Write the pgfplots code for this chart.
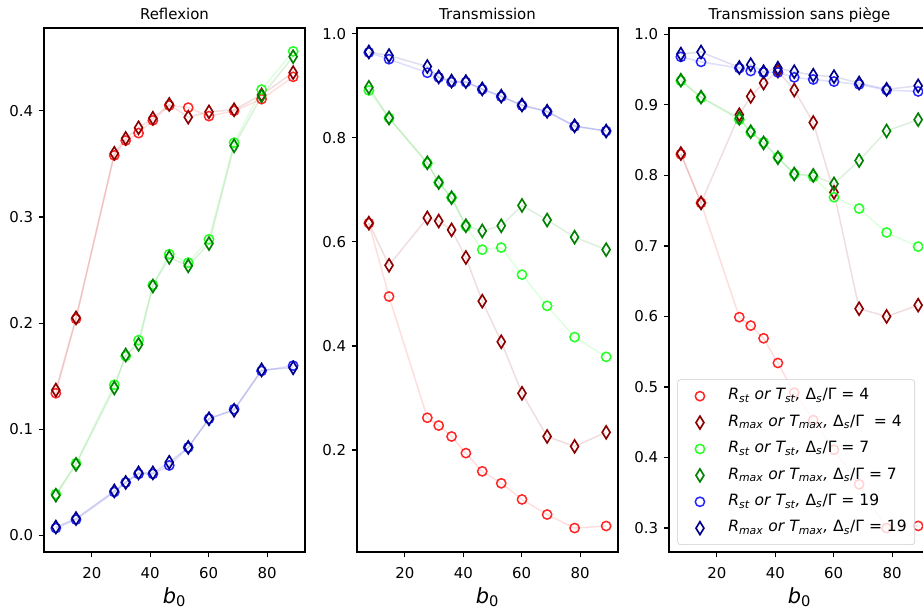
\documentclass[border=0pt]{standalone}
\usepackage{pgfplots}
\pgfplotsset{compat=1.18}
\usepackage{pgfplotstable}
\usepackage{fontspec}
\setmainfont{DejaVu Sans}
\definecolor{cR}{HTML}{FF0000}
\definecolor{cDR}{HTML}{8B0000}
\definecolor{cG}{HTML}{00FF00}
\definecolor{cDG}{HTML}{008000}
\definecolor{cB}{HTML}{0000FF}
\definecolor{cDB}{HTML}{00008B}

\pgfplotstableread{
x     rc    rd    gc    gd    bc    bd
7.7   0.134 0.137 0.039 0.038 0.007 0.008
14.6  0.204 0.205 0.068 0.067 0.015 0.016
27.7  0.358 0.360 0.142 0.139 0.041 0.042
31.6  0.372 0.374 0.169 0.170 0.050 0.050
36.0  0.379 0.384 0.184 0.180 0.058 0.059
40.9  0.391 0.393 0.236 0.235 0.058 0.059
46.5  0.405 0.406 0.265 0.262 0.066 0.069
53.0  0.403 0.394 0.257 0.254 0.083 0.083
60.1  0.395 0.399 0.279 0.275 0.110 0.110
68.7  0.400 0.401 0.370 0.367 0.119 0.118
78.1  0.411 0.415 0.420 0.414 0.155 0.156
88.9  0.432 0.436 0.456 0.451 0.160 0.158
}\tabR

\pgfplotstableread{
x     rc    rd    gc    gd    bc    bd
7.7   0.636 0.636 0.891 0.897 0.964 0.965
14.6  0.495 0.555 0.838 0.838 0.951 0.958
27.7  0.262 0.646 0.751 0.752 0.925 0.937
31.6  0.247 0.640 0.714 0.714 0.916 0.917
36.0  0.226 0.623 0.685 0.685 0.907 0.909
40.9  0.194 0.570 0.630 0.631 0.907 0.908
46.5  0.159 0.486 0.585 0.621 0.893 0.894
53.0  0.136 0.408 0.589 0.631 0.879 0.880
60.1  0.105 0.309 0.537 0.670 0.862 0.863
68.7  0.076 0.226 0.477 0.642 0.850 0.851
78.1  0.050 0.207 0.417 0.609 0.822 0.823
88.9  0.054 0.234 0.379 0.585 0.813 0.813
}\tabT

\pgfplotstableread{
x     rc    rd    gc    gd    bc    bd
7.7   0.830 0.831 0.934 0.935 0.968 0.972
14.6  0.761 0.761 0.910 0.911 0.961 0.975
27.7  0.599 0.886 0.879 0.881 0.952 0.953
31.6  0.587 0.912 0.861 0.862 0.948 0.957
36.0  0.569 0.931 0.847 0.846 0.946 0.947
40.9  0.534 0.948 0.826 0.825 0.946 0.952
46.5  0.492 0.921 0.802 0.802 0.939 0.947
53.0  0.453 0.875 0.798 0.800 0.936 0.942
60.1  0.411 0.776 0.769 0.788 0.933 0.940
68.7  0.362 0.611 0.753 0.821 0.929 0.931
78.1  0.300 0.600 0.719 0.863 0.921 0.922
88.9  0.303 0.616 0.699 0.879 0.919 0.927
}\tabS

\newcommand{\fsz}{\fontsize{10}{12}\selectfont}
\newcommand{\lgst}[2]{\textit{R\textsubscript{#1} or T\textsubscript{#1}, }Δ\textit{\textsubscript{s}}/Γ#2}

\pgfplotsset{
  myax/.style={
    scale only axis, width=174bp, height=349.33bp,
    xmin=3.64, xmax=92.96,
    xtick={20,40,60,80},
    xtick pos=left, ytick pos=left,
    tick align=outside, major tick length=3.5bp,
    every tick/.style={black, line width=0.8bp},
    axis line style={line width=0.8bp},
    /pgf/number format/assume math mode=true,
    xticklabel style={font=\fsz, inner sep=0pt, anchor=north, yshift=-6.3bp},
    yticklabel style={font=\fsz, inner sep=0pt, anchor=east, xshift=-3.6bp,
      /pgf/number format/fixed, /pgf/number format/precision=1, /pgf/number format/fixed zerofill},
    title style={font=\fsz, at={(0.5,1)}, anchor=base, inner sep=0pt, yshift=-0.4bp},
    xlabel={\textit{b}\textsubscript{0}},
    xlabel style={font=\fontsize{14}{16}\selectfont, at={(0.5,0)}, anchor=base, inner sep=0pt, yshift=-34bp},
    legend image code/.code={\path (-9.4bp,0bp) (3bp,0bp); \draw[##1] plot coordinates {(0bp,0bp)};},
  },
  lin/.style={color=#1, line width=1bp, opacity=0.13, no marks, forget plot},
  circ/.style={only marks, mark=o, mark size=3.1bp, color=#1, mark options={line width=1bp, draw opacity=0.85}},
  diam/.style={only marks, mark=diamond, mark size=4.3bp, color=#1, mark options={line width=1.1bp, xscale=0.82}},
}

\newcommand{\allplots}[1]{%
  \addplot[lin=cR] table[x=x,y=rc]{#1};
  \addplot[lin=cDR] table[x=x,y=rd]{#1};
  \addplot[lin=cG] table[x=x,y=gc]{#1};
  \addplot[lin=cDG] table[x=x,y=gd]{#1};
  \addplot[lin=cB] table[x=x,y=bc]{#1};
  \addplot[lin=cDB] table[x=x,y=bd]{#1};
  \addplot[circ=cR] table[x=x,y=rc]{#1};
  \addplot[diam=cDR] table[x=x,y=rd]{#1};
  \addplot[circ=cG] table[x=x,y=gc]{#1};
  \addplot[diam=cDG] table[x=x,y=gd]{#1};
  \addplot[circ=cB] table[x=x,y=bc]{#1};
  \addplot[diam=cDB] table[x=x,y=bd]{#1};
}

\begin{document}
\begin{tikzpicture}
\path[use as bounding box] (0,0) rectangle (615.33bp,409.33bp);
\begin{axis}[myax, at={(29.33bp,41.33bp)}, anchor=south west,
  title={Reflexion}, ymin=-0.0155, ymax=0.478, ytick={0,0.1,0.2,0.3,0.4}]
\allplots{\tabR}
\end{axis}
\begin{axis}[myax, at={(238bp,41.33bp)}, anchor=south west,
  title={Transmission}, ymin=0.004, ymax=1.011, ytick={0.2,0.4,0.6,0.8,1.0}]
\allplots{\tabT}
\end{axis}
\begin{axis}[myax, at={(446bp,41.33bp)}, anchor=south west,
  title={Transmission sans piège}, ymin=0.266, ymax=1.009, ytick={0.3,0.4,0.5,0.6,0.7,0.8,0.9,1.0},
  legend style={at={(0.9425,0.0134)}, anchor=south east, font=\fontsize{10.4}{12}\selectfont,
    draw=black!20, fill=white, fill opacity=0.8, draw opacity=1, text opacity=1,
    rounded corners=2bp, inner xsep=5.3bp, inner ysep=5.5bp, row sep=6.6bp, column sep=15.7bp,
    nodes={inner sep=0pt, text height=8bp, text depth=3bp}},
  legend cell align=left]
\allplots{\tabS}
\legend{\lgst{st}{ = 4}, \lgst{max}{\ \ = 4}, \lgst{st}{ = 7}, \lgst{max}{ = 7}, \lgst{st}{ = 19}, \lgst{max}{ = 19}}
\end{axis}
\end{tikzpicture}
\end{document}
